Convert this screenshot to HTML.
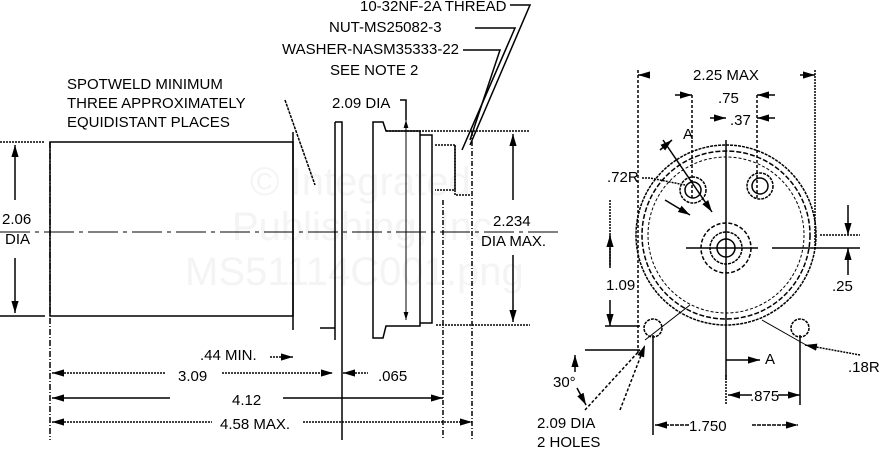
<!DOCTYPE html>
<html><head><meta charset="utf-8"><style>
html,body{margin:0;padding:0;background:#fff}
svg{display:block}
text{font-family:"Liberation Sans",sans-serif;font-size:15px;fill:#000}
</style></head><body>
<svg width="885" height="452" viewBox="0 0 885 452" xmlns="http://www.w3.org/2000/svg">
<defs>
<marker id="a" viewBox="0 0 10 6" refX="10" refY="3" markerWidth="8" markerHeight="5" orient="auto-start-reverse"><path d="M0,0L10,3L0,6z" fill="#000"/></marker>
</defs>
<g stroke="none">
<text x="250" y="195" style="font-size:40px;fill:#f4f4f4">© Integrated</text>
<text x="232" y="240" style="font-size:40px;fill:#f4f4f4">Publishing, Inc.</text>
<text x="185" y="285" style="font-size:40px;fill:#f4f4f4">MS51114C001.png</text>
</g>
<g stroke="#000" fill="none" stroke-width="1.5">
<path d="M50,142H293V316H50Z"/>
<path d="M50,142V440" stroke-dasharray="6,2,1,2"/>
<line x1="0" y1="232" x2="560" y2="232" stroke-dasharray="30,5,4,5" stroke-width="1"/>
<line x1="0" y1="142" x2="45" y2="142" stroke-dasharray="2,1"/>
<line x1="0" y1="316" x2="45" y2="316"/>
<line x1="15" y1="145" x2="15" y2="200" marker-start="url(#a)"/>
<line x1="15" y1="258" x2="15" y2="313" marker-end="url(#a)"/>
<path d="M293,132V330"/>
<path d="M335,122H342V440"/><path d="M335,122V340"/>
<path d="M320,328H335"/>
<path d="M373,122H383L386,131H420V326H386L383,338H373Z"/>
<path d="M420,135H432V323H420"/>
<path d="M435,145H455V190H435" stroke-dasharray="2,1"/>
<path d="M443,200V440" stroke-dasharray="5,2,1,2"/>
<path d="M472,131V440" stroke-dasharray="5,2,1,2"/>
<path d="M386,131H530" stroke-dasharray="2,1"/>
<path d="M436,325H530" stroke-dasharray="2,1"/>
<path d="M406,120V320" marker-start="url(#a)" marker-end="url(#a)" stroke-width="1"/>
<path d="M400,100H406V120"/>
<path d="M513,134V200" marker-start="url(#a)"/>
<path d="M513,255V322" marker-end="url(#a)"/>
<path d="M285,100L315,185" stroke-dasharray="3,1"/>
<path d="M510,5H530L470,145"/>
<path d="M475,28H515L462,150"/>
<path d="M463,50H500L470,140"/>
<path d="M455,145V195H470" stroke-dasharray="2,1"/>
<line x1="270" y1="357" x2="293" y2="357" marker-end="url(#a)" stroke-dasharray="2,1"/>
<line x1="52" y1="373" x2="165" y2="373" marker-start="url(#a)" stroke-dasharray="2,1"/>
<line x1="222" y1="373" x2="333" y2="373" marker-end="url(#a)" stroke-dasharray="2,1"/>
<line x1="343" y1="373" x2="368" y2="373" marker-start="url(#a)" stroke-dasharray="2,1"/>
<line x1="52" y1="398" x2="170" y2="398" marker-start="url(#a)"/>
<line x1="283" y1="398" x2="443" y2="398" marker-end="url(#a)"/>
<line x1="52" y1="422" x2="212" y2="422" marker-start="url(#a)" stroke-dasharray="2,1"/>
<line x1="303" y1="422" x2="472" y2="422" marker-end="url(#a)" stroke-dasharray="2,1"/>
<circle cx="726" cy="235" r="90" stroke-dasharray="3,1"/>
<circle cx="726" cy="235" r="84" stroke-dasharray="5,2"/>
<circle cx="726" cy="235" r="78" stroke-dasharray="3,2" stroke-width="1"/>
<circle cx="726" cy="248" r="25" stroke-dasharray="4,2"/>
<circle cx="726" cy="248" r="16" stroke-dasharray="3,1"/>
<circle cx="726" cy="248" r="9"/>
<circle cx="693" cy="190" r="13" stroke-dasharray="3,1"/>
<circle cx="693" cy="190" r="8"/>
<circle cx="760" cy="186" r="13" stroke-dasharray="3,1"/>
<circle cx="760" cy="186" r="8"/>
<circle cx="653" cy="328" r="9" stroke-dasharray="3,1"/>
<circle cx="800" cy="328" r="9" stroke-dasharray="3,1"/>
<path d="M645,340L690,305M762,320L806,345" stroke-width="1"/>
<line x1="686" y1="248" x2="758" y2="248"/><line x1="772" y1="248" x2="860" y2="248"/>
<line x1="726" y1="140" x2="726" y2="380"/>
<line x1="726" y1="360" x2="760" y2="360" marker-end="url(#a)"/>
<line x1="638" y1="70" x2="638" y2="355" stroke-dasharray="3,2"/>
<line x1="815" y1="70" x2="815" y2="250" stroke-dasharray="2,1"/>
<line x1="692" y1="95" x2="692" y2="200" stroke-dasharray="3,2"/>
<line x1="757" y1="95" x2="757" y2="200" stroke-dasharray="3,2"/>
<line x1="638" y1="75" x2="650" y2="75" marker-start="url(#a)"/>
<line x1="800" y1="75" x2="815" y2="75" marker-end="url(#a)"/>
<line x1="675" y1="95" x2="692" y2="95" marker-end="url(#a)"/>
<line x1="757" y1="95" x2="775" y2="95" marker-start="url(#a)"/>
<line x1="710" y1="118" x2="726" y2="118" marker-end="url(#a)"/>
<line x1="757" y1="118" x2="775" y2="118" marker-start="url(#a)"/>
<line x1="610" y1="200" x2="610" y2="265" stroke-dasharray="2,1"/>
<line x1="610" y1="235" x2="610" y2="268" marker-start="url(#a)"/>
<line x1="610" y1="300" x2="610" y2="326" marker-end="url(#a)"/>
<line x1="605" y1="326" x2="640" y2="326"/>
<line x1="848" y1="205" x2="848" y2="235" marker-end="url(#a)"/>
<line x1="848" y1="275" x2="848" y2="248" marker-end="url(#a)"/>
<line x1="820" y1="235" x2="860" y2="235" stroke-dasharray="2,1"/>
<line x1="800" y1="335" x2="800" y2="405"/>
<line x1="653" y1="335" x2="653" y2="435"/>
<line x1="726" y1="375" x2="726" y2="405" stroke-dasharray="2,1"/>
<line x1="728" y1="395" x2="752" y2="395" marker-start="url(#a)"/>
<line x1="778" y1="395" x2="800" y2="395" marker-end="url(#a)"/>
<line x1="655" y1="425" x2="690" y2="425" marker-start="url(#a)" stroke-dasharray="4,1"/>
<line x1="752" y1="425" x2="798" y2="425" marker-end="url(#a)" stroke-dasharray="4,1"/>
<line x1="585" y1="350" x2="640" y2="350"/>
<line x1="585" y1="410" x2="640" y2="350" stroke-dasharray="3,2"/>
<line x1="575" y1="355" x2="575" y2="372" marker-start="url(#a)"/>
<line x1="577" y1="388" x2="586" y2="405" marker-end="url(#a)"/>
<line x1="620" y1="410" x2="645" y2="345" marker-end="url(#a)" stroke-dasharray="3,2"/>
<line x1="860" y1="355" x2="805" y2="345" marker-end="url(#a)" stroke-dasharray="2,1"/>
<path d="M642,178H650L685,185" stroke-dasharray="2,1"/>
<line x1="663" y1="140" x2="712" y2="212" marker-end="url(#a)"/>
<line x1="660" y1="150" x2="672" y2="140" marker-end="url(#a)"/>
<line x1="665" y1="200" x2="690" y2="215" marker-end="url(#a)"/>
</g>
<g stroke="none">
<text x="67" y="89">SPOTWELD MINIMUM</text>
<text x="67" y="108">THREE APPROXIMATELY</text>
<text x="67" y="127">EQUIDISTANT PLACES</text>
<text x="360" y="11">10-32NF-2A THREAD</text>
<text x="329" y="32">NUT-MS25082-3</text>
<text x="282" y="54">WASHER-NASM35333-22</text>
<text x="330" y="75">SEE NOTE 2</text>
<text x="332" y="108">2.09 DIA</text>
<text x="2" y="224">2.06</text>
<text x="5" y="244">DIA</text>
<text x="493" y="226">2.234</text>
<text x="481" y="246">DIA MAX.</text>
<text x="200" y="360">.44 MIN.</text>
<text x="178" y="381">3.09</text>
<text x="378" y="381">.065</text>
<text x="232" y="405">4.12</text>
<text x="220" y="429">4.58 MAX.</text>
<text x="693" y="80">2.25 MAX</text>
<text x="718" y="103">.75</text>
<text x="730" y="125">.37</text>
<text x="683" y="139">A</text>
<text x="607" y="182">.72R</text>
<text x="606" y="290">1.09</text>
<text x="832" y="291">.25</text>
<text x="765" y="364">A</text>
<text x="750" y="401">.875</text>
<text x="848" y="372">.18R</text>
<text x="553" y="387">30°</text>
<text x="537" y="428">2.09 DIA</text>
<text x="537" y="447">2 HOLES</text>
<text x="689" y="431">1.750</text>
</g>
</svg>
</body></html>
